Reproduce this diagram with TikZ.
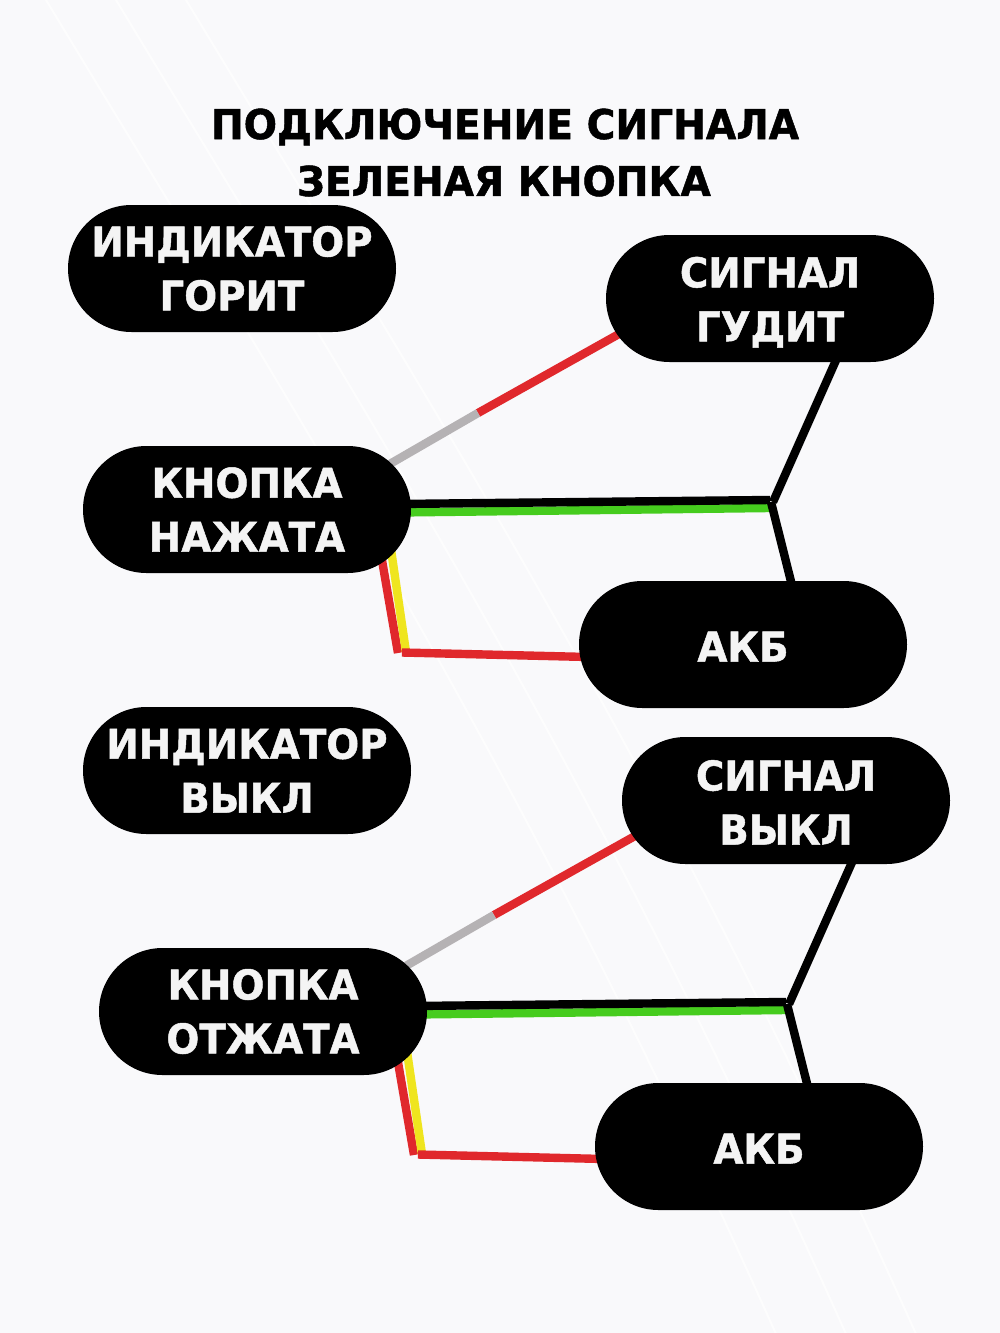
\documentclass[tikz,border=0pt]{standalone}
\usepackage{fontspec}
\usepackage{graphicx}
\setmainfont{DejaVu Sans}[BoldFeatures={FakeBold=1.2}]
\usetikzlibrary{calc}
\definecolor{bgc}{HTML}{F9F9FB}
\definecolor{wred}{HTML}{E0282C}
\definecolor{wgray}{HTML}{B5B2B4}
\definecolor{wgreen}{HTML}{46CC1E}
\definecolor{wyellow}{HTML}{EFE51E}
\definecolor{ltext}{HTML}{F4F4F4}
\newcommand{\txtfont}{\fontsize{41}{54}\selectfont\bfseries}
\newcommand{\sq}[1]{\scalebox{0.945}[1]{#1}}
\newcommand{\sqt}[1]{\scalebox{0.955}[1]{#1}}
\newcommand{\dropd}[1]{\rule{0pt}{\dimexpr30pt+2\dimexpr#1pt\relax\relax}}
\tikzset{
  pill/.style={fill=black,text=ltext,rounded corners=63.5pt,minimum width=328pt,minimum height=127pt,inner sep=0pt,align=center,font=\txtfont},
  heading/.style={text=black,inner sep=0pt,align=center,font=\txtfont},
  wire/.style={line width=8.4pt,line cap=butt},
  wblack/.style={wire,draw=black},
  wr/.style={wire,draw=wred},
  wg/.style={wire,draw=wgray},
  wgr/.style={wire,draw=wgreen},
  wy/.style={wire,draw=wyellow},
}
\begin{document}
\begin{tikzpicture}[x=1pt,y=-1pt]
\path[use as bounding box,fill=bgc] (0,0) rectangle (1000,1333);
% faint background contours
\foreach \dx in {0,70,140}{
  \draw[white,line width=2pt,opacity=0.7] (40+\dx,-10) .. controls (300+\dx,420) and (520+\dx,760) .. (780+\dx,1343);
}
% upper group coordinates
\coordinate (btnAc) at (247,509.5);
\coordinate (sigAc) at (770,298.5);
\coordinate (akbAc) at (743,644.5);
\coordinate (jA) at (771,502);
\coordinate (jAg) at (769,508);
\coordinate (splitA) at (478,413);
\coordinate (cornerAr) at (398,653);
\coordinate (cornerAy) at (406,652);
% lower group coordinates
\coordinate (btnBc) at (263,1011.5);
\coordinate (sigBc) at (786,800.5);
\coordinate (akbBc) at (759,1146.5);
\coordinate (jB) at (787,1004);
\coordinate (jBg) at (785,1010);
\coordinate (splitB) at (494,915);
\coordinate (cornerBr) at (414,1155);
\coordinate (cornerBy) at (422,1154);
% connectors (ends hidden under the pills)
\draw[wr] ($(sigAc)+(-143,31)$) -- (splitA);
\draw[wg] (splitA) -- ($(btnAc)+(135,-41)$);
\draw[wgr] ($(btnAc)+(150,3)$) -- (jAg);
\draw[wblack] ($(btnAc)+(150,-5.5)$) -- ($(jA)+(-1,-2)$);
\draw[wblack] ($(sigAc)+(69,55)$) -- ($(jA)+(2,0)$);
\draw[wblack] (jA) -- ($(akbAc)+(50,-55)$);
\draw[wr] ($(btnAc)+(134,45)$) -- (cornerAr);
\draw[wy] ($(btnAc)+(144,40)$) -- (cornerAy);
\draw[wr] ($(cornerAr)+(4,-0.5)$) -- ($(akbAc)+(-155,12.5)$);
%
\draw[wr] ($(sigBc)+(-143,31)$) -- (splitB);
\draw[wg] (splitB) -- ($(btnBc)+(135,-41)$);
\draw[wgr] ($(btnBc)+(150,3)$) -- (jBg);
\draw[wblack] ($(btnBc)+(150,-5.5)$) -- ($(jB)+(-1,-2)$);
\draw[wblack] ($(sigBc)+(69,55)$) -- ($(jB)+(2,0)$);
\draw[wblack] (jB) -- ($(akbBc)+(50,-55)$);
\draw[wr] ($(btnBc)+(134,45)$) -- (cornerBr);
\draw[wy] ($(btnBc)+(144,40)$) -- (cornerBy);
\draw[wr] ($(cornerBr)+(4,-0.5)$) -- ($(akbBc)+(-155,12.5)$);
% title
\node[heading] (title1) at (505,127) {\sqt{ПОДКЛЮЧЕНИЕ СИГНАЛА}};
\node[heading] (title2) at (504,181) {\sqt{ЗЕЛЕНАЯ КНОПКА}};
% pills
\node[pill] (indA) at (232,268.5) {\sq{ИНДИКАТОР}\\\sq{ГОРИТ}};
\node[pill] (sigA) at (sigAc) {\dropd{4}\sq{СИГНАЛ}\\\sq{ГУДИТ}};
\node[pill] (btnA) at (btnAc) {\sq{КНОПКА}\\\sq{НАЖАТА}};
\node[pill] (akbA) at (akbAc) {\dropd{2}\sq{АКБ}};
\node[pill] (indB) at (247,770.5) {\sq{ИНДИКАТОР}\\\sq{ВЫКЛ}};
\node[pill] (sigB) at (sigBc) {\dropd{2}\sq{СИГНАЛ}\\\sq{ВЫКЛ}};
\node[pill] (btnB) at (btnBc) {\sq{КНОПКА}\\\sq{ОТЖАТА}};
\node[pill] (akbB) at (akbBc) {\dropd{2}\sq{АКБ}};
\end{tikzpicture}
\end{document}
